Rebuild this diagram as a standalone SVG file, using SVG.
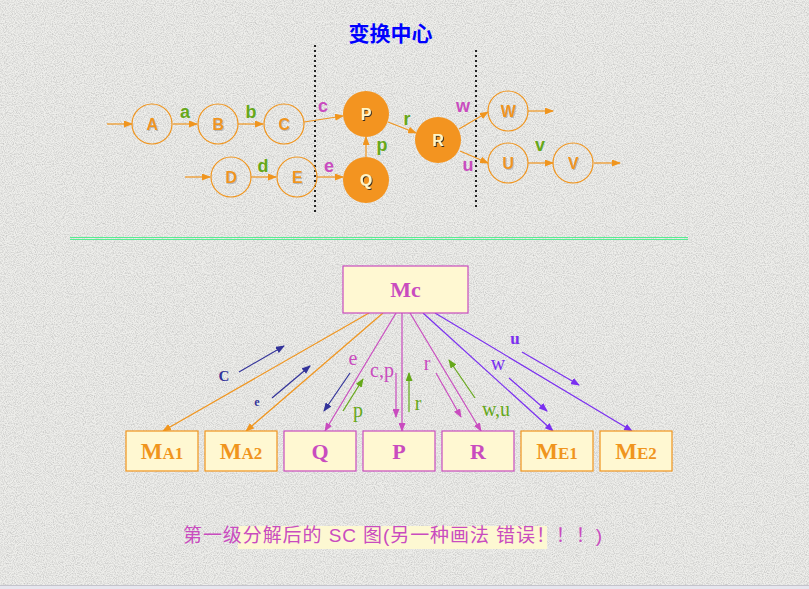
<svg xmlns="http://www.w3.org/2000/svg" width="809" height="589" viewBox="0 0 809 589">
<defs>
<filter id="noise" x="0" y="0" width="100%" height="100%">
<feTurbulence type="fractalNoise" baseFrequency="0.9" numOctaves="2" seed="7" result="n"/>
<feColorMatrix in="n" type="matrix" values="0 0 0 0 0.55  0 0 0 0 0.55  0 0 0 0 0.54  1.9 0 0 0 -0.72"/>
</filter>
<filter id="sh" x="-20%" y="-20%" width="140%" height="140%"><feDropShadow dx="1" dy="1" stdDeviation="0.4" flood-color="#999" flood-opacity="0.6"/></filter>
<filter id="shd" x="-20%" y="-20%" width="140%" height="140%"><feDropShadow dx="1" dy="1" stdDeviation="0.3" flood-color="#222" flood-opacity="0.9"/></filter>
<marker id="mo" markerWidth="9" markerHeight="7" refX="8" refY="3.5" orient="auto" markerUnits="userSpaceOnUse"><path d="M0,0 L9,3.5 L0,7 z" fill="#f0951e"/></marker>
<marker id="mm" markerWidth="9" markerHeight="7" refX="8" refY="3.5" orient="auto" markerUnits="userSpaceOnUse"><path d="M0,0 L9,3.5 L0,7 z" fill="#c94cbf"/></marker>
<marker id="mp" markerWidth="9" markerHeight="7" refX="8" refY="3.5" orient="auto" markerUnits="userSpaceOnUse"><path d="M0,0 L9,3.5 L0,7 z" fill="#7a2ff0"/></marker>
<marker id="mn" markerWidth="9" markerHeight="7" refX="8" refY="3.5" orient="auto" markerUnits="userSpaceOnUse"><path d="M0,0 L9,3.5 L0,7 z" fill="#33339a"/></marker>
<marker id="mg" markerWidth="9" markerHeight="7" refX="8" refY="3.5" orient="auto" markerUnits="userSpaceOnUse"><path d="M0,0 L9,3.5 L0,7 z" fill="#66a81a"/></marker>
</defs>
<style>
.oc{fill:none;stroke:#f0951e;stroke-width:1.2}
.fc{fill:#f39420;stroke:none}
.nt{font-family:"Liberation Sans",Arial,sans-serif;font-weight:bold;font-size:16px;fill:#f0951e;text-anchor:middle;filter:url(#sh)}
.ft{font-family:"Liberation Sans",Arial,sans-serif;font-weight:bold;font-size:16px;fill:#fff6c8;text-anchor:middle;filter:url(#shd)}
.ao{stroke:#f0951e;stroke-width:1.2;fill:none;marker-end:url(#mo)}
.am{stroke:#c94cbf;stroke-width:1.2;fill:none;marker-end:url(#mm)}
.ap{stroke:#7a2ff0;stroke-width:1.2;fill:none;marker-end:url(#mp)}
.an{stroke:#33339a;stroke-width:1.2;fill:none;marker-end:url(#mn)}
.ag{stroke:#66a81a;stroke-width:1.2;fill:none;marker-end:url(#mg)}
.lg{font-family:"Liberation Sans",Arial,sans-serif;font-weight:bold;font-size:18px;fill:#66a81a;text-anchor:middle}
.lm{font-family:"Liberation Sans",Arial,sans-serif;font-weight:bold;font-size:18px;fill:#c94cbf;text-anchor:middle}
.bo{fill:#fff8d2;stroke:#f0951e;stroke-width:1.2}
.bm{fill:#fff8d2;stroke:#c94cbf;stroke-width:1.2}
.to{font-family:"Liberation Serif","Times New Roman",serif;font-weight:bold;font-size:23px;fill:#f0951e;text-anchor:middle}
.tm{font-family:"Liberation Serif","Times New Roman",serif;font-weight:bold;font-size:22px;fill:#c94cbf;text-anchor:middle}
.sub{font-size:17px}
.sl{font-family:"Liberation Serif","Times New Roman",serif;font-size:20px;text-anchor:middle}
.dot{stroke:#222;stroke-width:2;stroke-dasharray:2 3}
</style>
<rect width="809" height="589" fill="#eeeeeb"/>
<rect width="809" height="589" filter="url(#noise)"/>
<rect x="0" y="585" width="809" height="4" fill="#e6e6ee"/>
<line x1="0" y1="585.5" x2="809" y2="585.5" stroke="#c4c4cc" stroke-width="1"/>

<text x="390.5" y="41" font-family="'Noto Sans CJK SC','Liberation Sans',sans-serif" font-weight="bold" font-size="21" fill="#0000ff" text-anchor="middle">变换中心</text>

<line class="dot" x1="315" y1="45" x2="315" y2="215"/>
<line class="dot" x1="476" y1="50" x2="476" y2="210"/>

<g id="connectors-top">
<line class="ao" x1="107" y1="124" x2="132" y2="124"/>
<line class="ao" x1="173" y1="124" x2="197" y2="124"/>
<line class="ao" x1="238" y1="124" x2="263" y2="124"/>
<line class="ao" x1="304" y1="122" x2="343" y2="116"/>
<line class="ao" x1="185" y1="177" x2="210" y2="177"/>
<line class="ao" x1="251" y1="177" x2="276" y2="177"/>
<line class="ao" x1="317" y1="177" x2="343" y2="177"/>
<line class="ao" x1="366" y1="157" x2="366" y2="137"/>
<line class="ao" x1="388" y1="122" x2="416" y2="133"/>
<line class="ao" x1="459" y1="129" x2="488" y2="112"/>
<line class="ao" x1="460" y1="151" x2="488" y2="163"/>
<line class="ao" x1="528" y1="111" x2="553" y2="111"/>
<line class="ao" x1="528" y1="163" x2="553" y2="163"/>
<line class="ao" x1="594" y1="163" x2="620" y2="163"/>
<text class="lg" x="185" y="118">a</text>
<text class="lg" x="251" y="118">b</text>
<text class="lm" x="323" y="112">c</text>
<text class="lg" x="263" y="172">d</text>
<text class="lm" x="329" y="172">e</text>
<text class="lg" x="382" y="151">p</text>
<text class="lg" x="407" y="125">r</text>
<text class="lm" x="463" y="112">w</text>
<text class="lm" x="468" y="171">u</text>
<text class="lg" x="540" y="151">v</text>
</g>

<g id="A"><circle class="oc" cx="152" cy="124" r="20"/><text class="nt" x="152" y="130">A</text></g>
<g id="B"><circle class="oc" cx="218" cy="124" r="20"/><text class="nt" x="218" y="130">B</text></g>
<g id="C"><circle class="oc" cx="284" cy="124" r="20"/><text class="nt" x="284" y="130">C</text></g>
<g id="D"><circle class="oc" cx="231" cy="177" r="20"/><text class="nt" x="231" y="183">D</text></g>
<g id="E"><circle class="oc" cx="297" cy="177" r="20"/><text class="nt" x="297" y="183">E</text></g>
<g id="P"><circle class="fc" cx="366" cy="114" r="23"/><text class="ft" x="366" y="120">P</text></g>
<g id="Q"><circle class="fc" cx="366" cy="180" r="23"/><text class="ft" x="366" y="186">Q</text></g>
<g id="R"><circle class="fc" cx="438" cy="140" r="23"/><text class="ft" x="438" y="146">R</text></g>
<g id="W"><circle class="oc" cx="508" cy="111" r="20"/><text class="nt" x="508" y="117">W</text></g>
<g id="U"><circle class="oc" cx="508" cy="163" r="20"/><text class="nt" x="508" y="169">U</text></g>
<g id="V"><circle class="oc" cx="573" cy="163" r="20"/><text class="nt" x="573" y="169">V</text></g>

<line x1="70" y1="237.5" x2="688" y2="237.5" stroke="#58ec92" stroke-width="1"/>
<line x1="70" y1="239.5" x2="688" y2="239.5" stroke="#58ec92" stroke-width="1"/>

<g id="connectors-bottom">
<line class="ao" x1="369" y1="313" x2="163" y2="431"/>
<line class="ao" x1="383" y1="313" x2="246" y2="431"/>
<line class="am" x1="396" y1="313" x2="325" y2="431"/>
<line class="am" x1="402" y1="313" x2="402" y2="431"/>
<line class="am" x1="410" y1="313" x2="481" y2="431"/>
<line class="ap" x1="423" y1="313" x2="553" y2="431"/>
<line class="ap" x1="435" y1="313" x2="632" y2="431"/>
<line class="an" x1="239" y1="372" x2="284" y2="346"/>
<line class="an" x1="272" y1="398" x2="310" y2="366"/>
<line class="an" x1="350" y1="373" x2="324" y2="411"/>
<line class="ag" x1="343" y1="411" x2="363" y2="379"/>
<line class="am" x1="396" y1="373" x2="396" y2="417"/>
<line class="ag" x1="409" y1="412" x2="409" y2="373"/>
<line class="am" x1="436" y1="373" x2="461" y2="417"/>
<line class="ag" x1="475" y1="398" x2="449" y2="360"/>
<line class="ap" x1="509" y1="378" x2="547" y2="411"/>
<line class="ap" x1="522" y1="352" x2="579" y2="385"/>
<text x="224" y="381" font-family="'Liberation Serif',serif" font-weight="bold" font-size="15" fill="#33339a" text-anchor="middle">C</text>
<text x="257" y="406" font-family="'Liberation Serif',serif" font-weight="bold" font-size="12" fill="#33339a" text-anchor="middle">e</text>
<text class="sl" x="353" y="365" fill="#c94cbf">e</text>
<text class="sl" x="358" y="417" fill="#66a81a">p</text>
<text class="sl" x="382" y="377" fill="#c94cbf">c,p</text>
<text class="sl" x="418" y="410" fill="#66a81a">r</text>
<text class="sl" x="427" y="370" fill="#c94cbf">r</text>
<text class="sl" x="496" y="416" fill="#66a81a">w,u</text>
<text class="sl" x="498" y="370" fill="#7a2ff0">w</text>
<text x="515" y="344" font-family="'Liberation Serif',serif" font-weight="bold" font-size="17" fill="#7a2ff0" text-anchor="middle">u</text>
</g>

<g id="Mc"><rect class="bm" x="343" y="266" width="125" height="47"/><text class="tm" x="405.5" y="297">Mc</text></g>
<g id="MA1"><rect class="bo" x="126" y="431" width="72" height="40"/><text class="to" x="162" y="459">M<tspan class="sub">A1</tspan></text></g>
<g id="MA2"><rect class="bo" x="205" y="431" width="72" height="40"/><text class="to" x="241" y="459">M<tspan class="sub">A2</tspan></text></g>
<g id="Qb"><rect class="bm" x="284" y="431" width="72" height="40"/><text class="tm" x="320" y="459">Q</text></g>
<g id="Pb"><rect class="bm" x="363" y="431" width="72" height="40"/><text class="tm" x="399" y="459">P</text></g>
<g id="Rb"><rect class="bm" x="442" y="431" width="72" height="40"/><text class="tm" x="478" y="459">R</text></g>
<g id="ME1"><rect class="bo" x="521" y="431" width="72" height="40"/><text class="to" x="557" y="459">M<tspan class="sub">E1</tspan></text></g>
<g id="ME2"><rect class="bo" x="600" y="431" width="72" height="40"/><text class="to" x="636" y="459">M<tspan class="sub">E2</tspan></text></g>

<rect x="238" y="526" width="309" height="23" fill="#fdf8d2"/>
<text x="183" y="542" font-family="'Liberation Sans','Noto Sans CJK SC',sans-serif" font-size="19" fill="#c94cbf" textLength="419" lengthAdjust="spacing">第一级分解后的 SC 图(另一种画法  错误！！！)</text>
</svg>
